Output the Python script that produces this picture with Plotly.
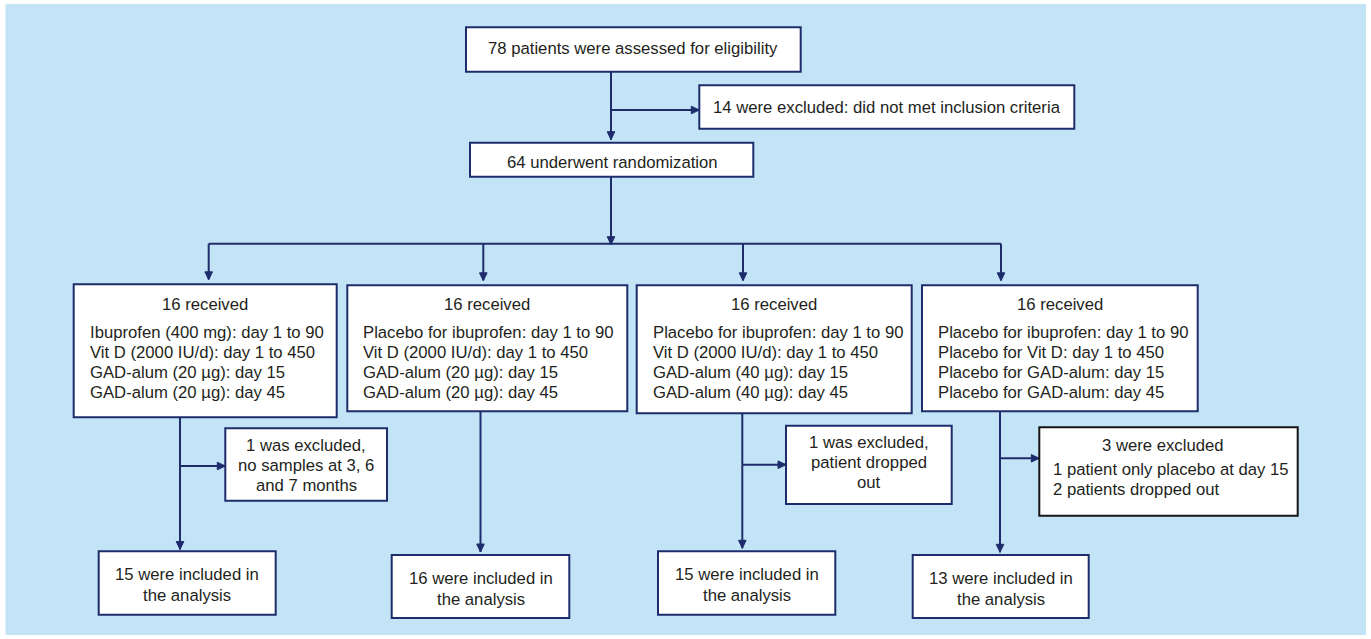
import plotly.graph_objects as go

# ---------------- data ----------------
assessed = 78
screen_excluded = 14
randomized = 64
arm_received = [16, 16, 16, 16]
arm_treatments = [
    ["Ibuprofen (400 mg): day 1 to 90", "Vit D (2000 IU/d): day 1 to 450",
     "GAD-alum (20 µg): day 15", "GAD-alum (20 µg): day 45"],
    ["Placebo for ibuprofen: day 1 to 90", "Vit D (2000 IU/d): day 1 to 450",
     "GAD-alum (20 µg): day 15", "GAD-alum (20 µg): day 45"],
    ["Placebo for ibuprofen: day 1 to 90", "Vit D (2000 IU/d): day 1 to 450",
     "GAD-alum (40 µg): day 15", "GAD-alum (40 µg): day 45"],
    ["Placebo for ibuprofen: day 1 to 90", "Placebo for Vit D: day 1 to 450",
     "Placebo for GAD-alum: day 15", "Placebo for GAD-alum: day 45"],
]
arm_excluded = [1, 0, 1, 3]
arm_excl_lines = [
    ["1 was excluded,", "no samples at 3, 6", "and 7 months"],
    [],
    ["1 was excluded,", "patient dropped", "out"],
    ["3 were excluded"],
]
arm4_excl_details = ["1 patient only placebo at day 15", "2 patients dropped out"]
arm_included = [15, 16, 15, 13]

# ---------------- layout geometry (pixels) ----------------
W, H = 1371, 639
NAVY = "#1f2c6c"
TXT = "#231f20"
BG = "#c2e4f6"
FONT = "Liberation Sans, Arial, sans-serif"
FS = 16.7

top_box = (466, 27.3, 800.7, 71.7)
scr_box = (699.3, 85.3, 1074.3, 128.7)
rnd_box = (470, 142.7, 753.3, 176.7)
arm_boxes = [(73.7, 284.3, 336.7, 417.3), (347.3, 285.3, 627.3, 411.3),
             (636.7, 285.3, 911.7, 413.3), (922, 285.3, 1197.7, 411.3)]
arm_drop_x = [208.7, 483.3, 743, 1001]
arm_down_x = [180, 480.5, 742.3, 1000]
arm_down_tip = [549.5, 552, 548.3, 552.3]
excl_boxes = [(225.3, 428.3, 387, 500.7), None, (786, 425.7, 951.7, 504),
              (1039.3, 427.3, 1297.7, 515.7)]
excl_branch_y = [466, None, 464.7, 458.3]
inc_boxes = [(98.7, 551.3, 275.7, 614.7), (391.7, 555, 569.3, 618),
             (658, 551.3, 835.3, 614.7), (912.7, 555, 1088.7, 618)]
main_x = 611
branch_y = 243.7

fig = go.Figure()
shapes = []
annotations = []


def rect(b, color=NAVY, width=2):
    shapes.append(dict(type="rect", xref="x", yref="y", x0=b[0], y0=b[1], x1=b[2], y1=b[3],
                       line=dict(color=color, width=width), fillcolor="white", layer="above"))


def line(x0, y0, x1, y1):
    shapes.append(dict(type="line", xref="x", yref="y", x0=x0, y0=y0, x1=x1, y1=y1,
                       line=dict(color=NAVY, width=2), layer="above"))


def head_down(x, y):
    shapes.append(dict(type="path", xref="x", yref="y",
                       path=f"M {x-3.8} {y-8} L {x+3.8} {y-8} L {x} {y} Z",
                       fillcolor=NAVY, line=dict(color=NAVY, width=1), layer="above"))


def head_right(x, y):
    shapes.append(dict(type="path", xref="x", yref="y",
                       path=f"M {x-8} {y-3.8} L {x-8} {y+3.8} L {x} {y} Z",
                       fillcolor=NAVY, line=dict(color=NAVY, width=1), layer="above"))


def text(x, y, s, anchor="center"):
    annotations.append(dict(x=x, y=y, xref="x", yref="y", text=s, showarrow=False,
                            xanchor=anchor, yanchor="middle",
                            font=dict(family=FONT, size=FS, color=TXT)))


# background panel
shapes.append(dict(type="rect", xref="x", yref="y", x0=5.5, y0=4, x1=1366, y1=635,
                   line=dict(width=0), fillcolor=BG, layer="below"))

# top part
rect(top_box)
text((top_box[0] + top_box[2]) / 2, 48.5, f"{assessed} patients were assessed for eligibility")
line(main_x, top_box[3], main_x, rnd_box[1] - 3)
head_down(main_x, rnd_box[1] - 3)
line(main_x, 110, scr_box[0] - 1, 110)
head_right(scr_box[0], 110)
rect(scr_box)
text((scr_box[0] + scr_box[2]) / 2, 107,
     f"{screen_excluded} were excluded: did not met inclusion criteria")
rect(rnd_box)
text(612, 162, f"{randomized} underwent randomization")
line(main_x, rnd_box[3], main_x, branch_y)
head_down(main_x, branch_y + 1)
line(arm_drop_x[0], branch_y, arm_drop_x[-1], branch_y)

for i in range(4):
    b = arm_boxes[i]
    line(arm_drop_x[i], branch_y, arm_drop_x[i], b[1] - 5)
    head_down(arm_drop_x[i], b[1] - 4.5)
    rect(b)
    text((b[0] + b[2]) / 2, 304, f"{arm_received[i]} received")
    for j, s in enumerate(arm_treatments[i]):
        text(b[0] + 14, 332 + 20.2 * j, s, anchor="left")
    # down to included
    ib = inc_boxes[i]
    line(arm_down_x[i], b[3], arm_down_x[i], arm_down_tip[i])
    head_down(arm_down_x[i], arm_down_tip[i])
    rect(ib)
    cx = (ib[0] + ib[2]) / 2
    text(cx, ib[1] + 23.5, f"{arm_included[i]} were included in")
    text(cx, ib[1] + 44, "the analysis")
    # exclusions
    eb = excl_boxes[i]
    if eb is not None and arm_excluded[i] > 0:
        yb = excl_branch_y[i]
        line(arm_down_x[i], yb, eb[0] - 1, yb)
        head_right(eb[0], yb)
        if i == 3:
            rect(eb, color="#151515", width=2)
            text(1162.7, 445, arm_excl_lines[i][0])
            for j, s in enumerate(arm4_excl_details):
                text(1051, 469 + 20.3 * j, s, anchor="left")
        else:
            rect(eb)
            ecx = (eb[0] + eb[2]) / 2
            for j, s in enumerate(arm_excl_lines[i]):
                text(ecx, eb[1] + 17 + 20 * j, s)

fig.update_layout(
    width=W, height=H, margin=dict(l=0, r=0, t=0, b=0),
    paper_bgcolor="white", plot_bgcolor="white",
    xaxis=dict(range=[0, W], visible=False, fixedrange=True),
    yaxis=dict(range=[H, 0], visible=False, fixedrange=True),
    shapes=shapes, annotations=annotations, showlegend=False,
)

fig.write_html("out.html", config={"displayModeBar": False},
               post_script="document.body.style.margin='0';document.body.style.overflow='hidden';")
